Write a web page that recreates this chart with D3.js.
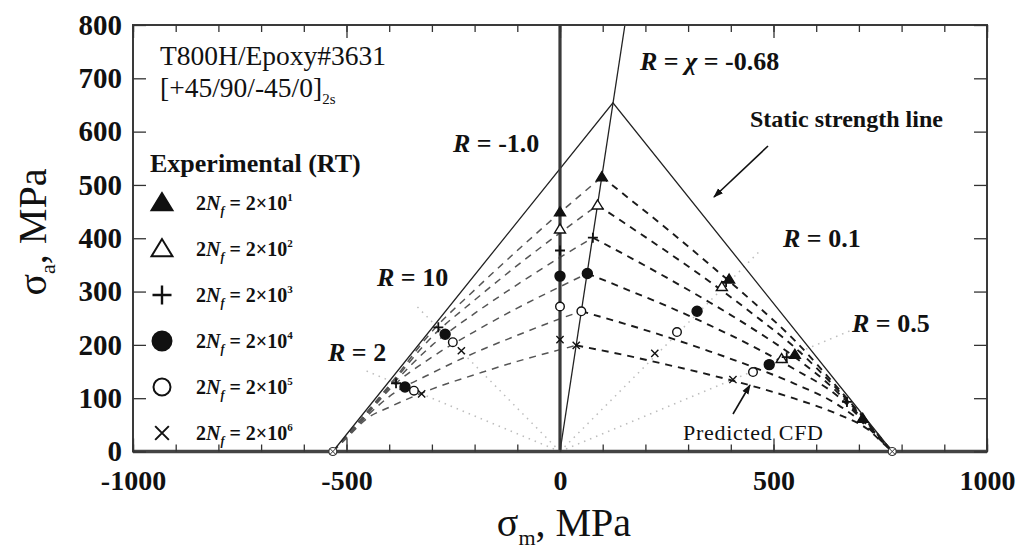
<!DOCTYPE html>
<html><head><meta charset="utf-8">
<script src="https://cdn.jsdelivr.net/npm/d3@7"></script>
<style>
body{margin:0;background:#fff;}
svg{display:block;}
text{font-family:"Liberation Serif","Times New Roman",serif;fill:#111;}
</style></head><body>
<svg id="chart" width="1024" height="550"></svg>
<script>
// ---------- data ----------
const xTickValues = [-1000, -500, 0, 500, 1000];
const yTickValues = [0, 100, 200, 300, 400, 500, 600, 700, 800];
const lifeExponents = ["1", "2", "3", "4", "5", "6"];
const markerTypes = ["triFilled", "triOpen", "plus", "circFilled", "circOpen", "cross"];

// experimental points [sigma_m, sigma_a]
const expLife1 = [[0,449],[98,515],[396,323],[550,182],[709,62]];
const expLife2 = [[0,417],[88,462],[379,309],[519,174]];
const expLife3 = [[0,377],[77,401],[-285,233],[-384,128],[389,318],[531,177],[672,93]];
const expLife4 = [[0,329],[64,334],[-269,220],[-363,121],[321,263],[490,163]];
const expLife5 = [[0,272],[50,263],[-251,205],[-342,114],[274,224],[452,149]];
const expLife6 = [[0,210],[38,199],[-231,189],[-324,108],[222,184],[405,135]];

// predicted CFD curves [sigma_m, sigma_a]
const cfdLife1 = [[-532,0],[-500,29],[-450,76],[-400,124],[-300,225],[-200,303],[-100,377],[0,448],[98,515],[150,482],[250,418],[350,351],[450,282],[550,208],[650,120],[720,55],[760,17],[778,0]];
const cfdLife2 = [[-532,0],[-500,28.5],[-450,75],[-400,122],[-300,215],[-200,284],[-100,349],[0,410],[88,462],[150,429],[250,375],[350,319],[450,259],[550,195],[650,116],[720,53],[760,16.5],[778,0]];
const cfdLife3 = [[-532,0],[-500,28],[-450,73],[-400,119],[-300,199],[-200,259],[-100,313],[0,364],[77,401],[150,370],[250,326],[350,280],[450,231],[550,177],[650,111],[720,51],[760,16],[778,0]];
const cfdLife4 = [[-532,0],[-500,27],[-450,71],[-400,116],[-300,177],[-200,225],[-100,269],[0,309],[64,334],[150,306],[250,273],[350,237],[450,198],[550,154],[650,104],[720,49],[760,15],[778,0]];
const cfdLife5 = [[-532,0],[-500,26],[-450,68],[-400,103],[-300,147],[-200,185],[-100,218],[0,249],[50,263],[150,240],[250,215],[350,188],[450,159],[550,127],[650,88],[720,46],[760,14],[778,0]];
const cfdLife6 = [[-532,0],[-500,25],[-450,63],[-400,83],[-300,117],[-200,144],[-100,169],[0,191],[38,199],[150,181],[250,163],[350,144],[450,123],[550,99],[650,70],[720,42],[760,13],[778,0]];

const staticStrength = [[-532,0],[124,654],[778,0]];
const staticPoints = [[-532,0],[778,0]];
const chiLine = [[0,0],[152,800]];
const rMinus1Line = [[0,0],[0,800]];
// dotted constant-R rays from origin: end points
const rayR01 = [[0,0],[469,377]];
const rayR05 = [[0,0],[690,230]];
const rayR10 = [[0,0],[-335,272]];
const rayR2 = [[0,0],[-462,154]];

// ---------- drawing ----------
const svg = d3.select("#chart");
const x = d3.scaleLinear().domain([-1000, 1000]).range([133, 987]);
const y = d3.scaleLinear().domain([0, 800]).range([451.5, 25]);
const line = d3.line().x(d => x(d[0])).y(d => y(d[1]));
const plainFmt = d => String(d);

svg.append("defs").append("marker")
  .attr("id","arrow").attr("viewBox","0 0 10 10").attr("refX",9).attr("refY",5)
  .attr("markerWidth",10).attr("markerHeight",10).attr("orient","auto-start-reverse")
  .attr("markerUnits","userSpaceOnUse")
  .append("path").attr("d","M0,1.5 L10,5 L0,8.5 Z").attr("fill","#111");

// dotted rays
[rayR01, rayR05, rayR10, rayR2].forEach(r => {
  svg.append("path").attr("d", line(r)).attr("fill","none")
    .attr("stroke","#bdbdbd").attr("stroke-width",1.5).attr("stroke-dasharray","1.5,5");
});

// CFD dashed curves: left half & right half split at peak
const curveLine = d3.line().x(d => x(d[0])).y(d => y(d[1])).curve(d3.curveMonotoneX);
[cfdLife1, cfdLife2, cfdLife3, cfdLife4, cfdLife5, cfdLife6].forEach(c => {
  const pk = d3.maxIndex(c, d => d[1]);
  [[c.slice(0, pk + 1), "#555", 1.5], [c.slice(pk), "#1a1a1a", 1.9]].forEach(([part, col, w]) => {
    svg.append("path").attr("d", curveLine(part)).attr("fill","none")
      .attr("stroke",col).attr("stroke-width",w).attr("stroke-dasharray","7,6");
  });
});

// static strength line
svg.append("path").attr("d", line(staticStrength)).attr("fill","none")
  .attr("stroke","#222").attr("stroke-width",1.3);
// chi line
svg.append("path").attr("d", line(chiLine)).attr("fill","none")
  .attr("stroke","#222").attr("stroke-width",1.3);
// R = -1 line
svg.append("path").attr("d", line(rMinus1Line)).attr("fill","none")
  .attr("stroke","#3a3a3a").attr("stroke-width",3.2);

// frame
svg.append("rect").attr("x",133).attr("y",25).attr("width",854).attr("height",426.5)
  .attr("fill","none").attr("stroke","#3a3a3a").attr("stroke-width",2);
svg.append("line").attr("x1",133).attr("x2",987).attr("y1",451.5).attr("y2",451.5)
  .attr("stroke","#444").attr("stroke-width",3.5);

// axes
function styleAxis(g){ g.select(".domain").remove(); g.selectAll(".tick line").attr("stroke","#333").attr("stroke-width",1.3); }
svg.append("g").attr("transform","translate(133,0)")
  .call(d3.axisLeft(y).tickValues(yTickValues).tickSize(-13).tickPadding(11).tickFormat(plainFmt))
  .call(styleAxis)
  .selectAll("text").attr("font-family","Liberation Serif").attr("font-size",29).attr("font-weight","bold").attr("fill","#111");
svg.append("g").attr("transform","translate(987,0)")
  .call(d3.axisRight(y).tickValues(yTickValues).tickSize(-13).tickFormat(""))
  .call(styleAxis);
const minorX = d3.range(-1000, 1001, 100);
svg.append("g").attr("transform","translate(0,451.5)")
  .call(d3.axisBottom(x).tickValues(minorX).tickSize(-7).tickFormat("")).call(styleAxis);
svg.append("g").attr("transform","translate(0,25)")
  .call(d3.axisTop(x).tickValues(minorX).tickSize(-7).tickFormat("")).call(styleAxis);
svg.append("g").attr("transform","translate(0,25)")
  .call(d3.axisTop(x).tickValues(xTickValues).tickSize(-13).tickFormat("")).call(styleAxis);
svg.append("g").attr("transform","translate(0,451.5)")
  .call(d3.axisBottom(x).tickValues(xTickValues).tickSize(-13).tickPadding(19).tickFormat(plainFmt))
  .call(styleAxis)
  .selectAll("text").attr("font-family","Liberation Serif").attr("font-size",28).attr("font-weight","bold").attr("fill","#111");

// markers
function drawMarker(g, type, cx, cy, s){
  const sw = s > 14 ? 2 : 1.4;
  if (type === "triFilled" || type === "triOpen"){
    const h = s * 0.9, w = s * 0.55;
    g.append("path").attr("d", `M${cx},${cy - h*0.58} L${cx - w},${cy + h*0.42} L${cx + w},${cy + h*0.42} Z`)
      .attr("fill", type === "triFilled" ? "#111" : "#fff").attr("stroke","#111").attr("stroke-width",sw);
  } else if (type === "circFilled" || type === "circOpen"){
    g.append("circle").attr("cx",cx).attr("cy",cy).attr("r", s/2 - (type==="circOpen"?sw/2:0))
      .attr("fill", type === "circFilled" ? "#111" : "#fff").attr("stroke","#111").attr("stroke-width",sw);
  } else if (type === "plus"){
    const a = s * 0.5;
    g.append("path").attr("d", `M${cx - a},${cy} L${cx + a},${cy} M${cx},${cy - a} L${cx},${cy + a}`)
      .attr("stroke","#111").attr("stroke-width",sw + 0.4).attr("fill","none");
  } else if (type === "cross"){
    const a = s * 0.36;
    g.append("path").attr("d", `M${cx - a},${cy - a} L${cx + a},${cy + a} M${cx - a},${cy + a} L${cx + a},${cy - a}`)
      .attr("stroke","#111").attr("stroke-width",sw).attr("fill","none");
  }
}
const gPts = svg.append("g");
[expLife1, expLife2, expLife3, expLife4, expLife5, expLife6].forEach((arr, i) => {
  arr.forEach(d => drawMarker(gPts, markerTypes[i], x(d[0]), y(d[1]), 10));
});
staticPoints.forEach(d => {
  const cx = x(d[0]), cy = y(d[1]);
  gPts.append("circle").attr("cx",cx).attr("cy",cy).attr("r",4).attr("fill","#fff").attr("stroke","#333").attr("stroke-width",1.2);
  gPts.append("path").attr("d",`M${cx-3},${cy-3}L${cx+3},${cy+3}M${cx-3},${cy+3}L${cx+3},${cy-3}`).attr("stroke","#333").attr("stroke-width",1);
});

// legend
const gl = svg.append("g");
gl.append("text").attr("x",160).attr("y",65).attr("font-size",27.5).text("T800H/Epoxy#3631");
const lam = gl.append("text").attr("x",160).attr("y",97).attr("font-size",27.5);
lam.append("tspan").text("[+45/90/-45/0]");
lam.append("tspan").attr("font-size",15).attr("dy",7).text("2s");
gl.append("text").attr("x",150).attr("y",172).attr("font-size",26).attr("font-weight","bold").text("Experimental (RT)");
lifeExponents.forEach((e, i) => {
  const cy = 203 + i * 46;
  drawMarker(gl, markerTypes[i], 162, cy, 19);
  const t = gl.append("text").attr("x",196).attr("y",cy + 7).attr("font-size",20).attr("font-weight","bold");
  t.append("tspan").text("2");
  t.append("tspan").attr("font-style","italic").text("N");
  t.append("tspan").attr("font-style","italic").attr("font-size",12).attr("dy",5).text("f");
  t.append("tspan").attr("dy",-5).text(" = 2×10");
  t.append("tspan").attr("font-size",11).attr("dy",-9).text(e);
});

// annotation labels
function rLabel(xp, yp, rest, size){
  const t = svg.append("text").attr("x",xp).attr("y",yp).attr("font-size",size || 26).attr("font-weight","bold");
  t.append("tspan").attr("font-style","italic").text("R");
  t.append("tspan").text(" = " + rest);
  return t;
}
rLabel(453, 152, "-1.0");
const chiT = svg.append("text").attr("x",640).attr("y",70).attr("font-size",26).attr("font-weight","bold");
chiT.append("tspan").attr("font-style","italic").text("R");
chiT.append("tspan").text(" = ");
chiT.append("tspan").attr("font-style","italic").text("χ");
chiT.append("tspan").text(" = -0.68");
rLabel(783, 247, "0.1");
rLabel(852, 332, "0.5");
rLabel(377, 286, "10");
rLabel(328, 361, "2");
svg.append("text").attr("x",750).attr("y",127).attr("font-size",24).attr("font-weight","bold").text("Static strength line");
svg.append("line").attr("x1",768).attr("y1",146).attr("x2",714).attr("y2",197)
  .attr("stroke","#111").attr("stroke-width",1.6).attr("marker-end","url(#arrow)");
svg.append("text").attr("x",683).attr("y",440).attr("font-size",22).attr("textLength",140).text("Predicted CFD");
svg.append("line").attr("x1",733).attr("y1",414).attr("x2",750).attr("y2",385)
  .attr("stroke","#111").attr("stroke-width",1.6).attr("marker-end","url(#arrow)");

// axis titles
const yt = svg.append("text").attr("transform","translate(46,232) rotate(-90)").attr("text-anchor","middle").attr("font-size",40);
yt.append("tspan").text("σ");
yt.append("tspan").attr("font-size",22).attr("dy",9).text("a");
yt.append("tspan").attr("dy",-9).text(", MPa");
const xt = svg.append("text").attr("x",564).attr("y",536).attr("text-anchor","middle").attr("font-size",40);
xt.append("tspan").text("σ");
xt.append("tspan").attr("font-size",22).attr("dy",9).text("m");
xt.append("tspan").attr("dy",-9).text(", MPa");
</script>
</body></html>
